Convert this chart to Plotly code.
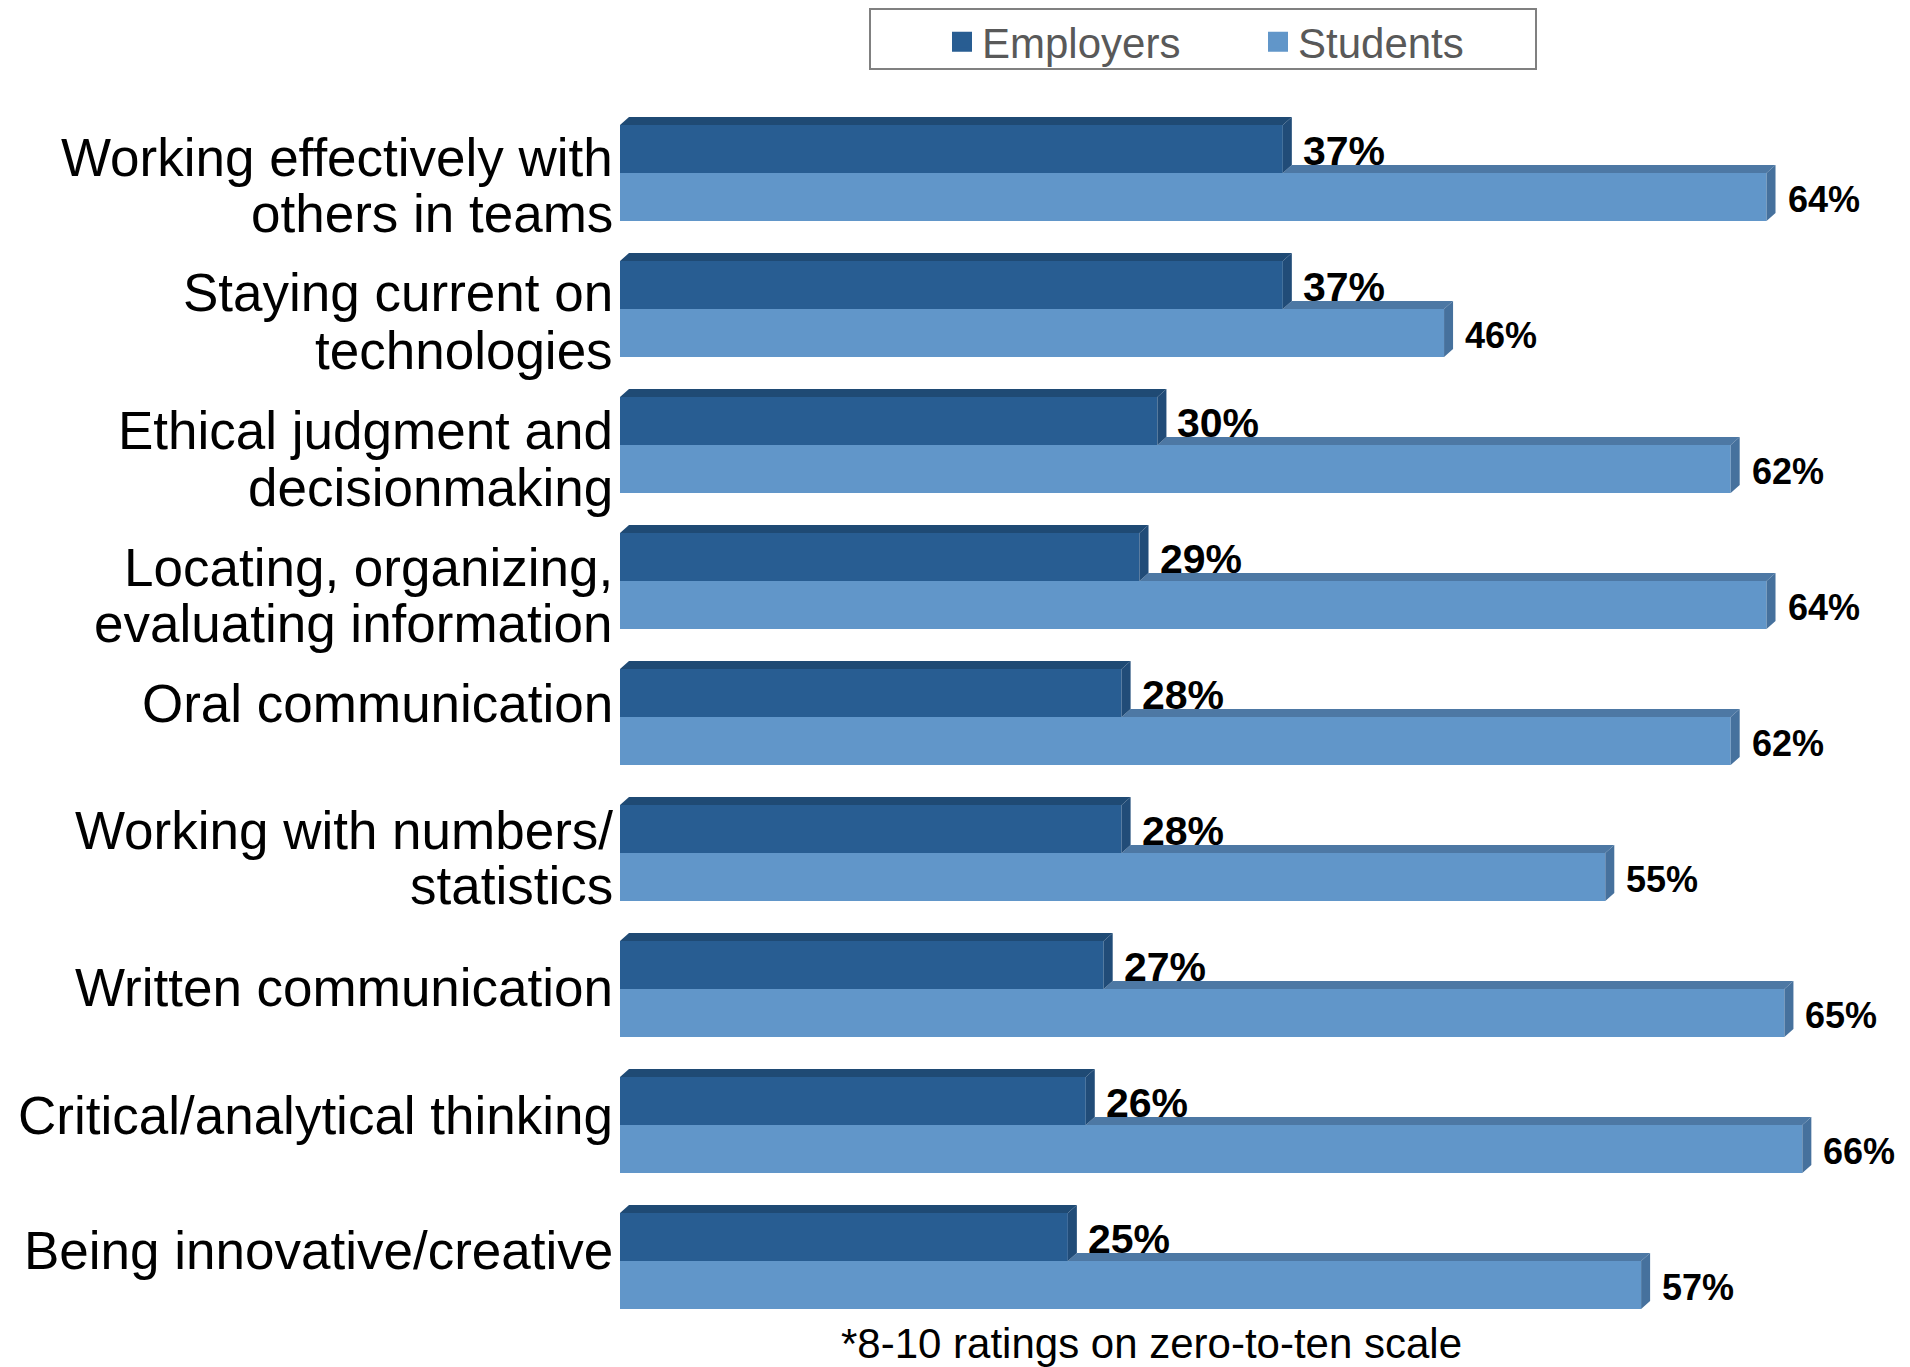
import plotly.graph_objects as go

# ---------------- data ----------------
categories = [
    "Working effectively with<br>others in teams",
    "Staying current on<br>technologies",
    "Ethical judgment and<br>decisionmaking",
    "Locating, organizing,<br>evaluating information",
    "Oral communication",
    "Working with numbers/<br>statistics",
    "Written communication",
    "Critical/analytical thinking",
    "Being innovative/creative",
]
employers = [37, 37, 30, 29, 28, 28, 27, 26, 25]
students = [64, 46, 62, 64, 62, 55, 65, 66, 57]
series_names = ["Employers", "Students"]
footnote = "*8-10 ratings on zero-to-ten scale"

# ---------------- style / layout constants ----------------
OFF = 8                      # page body margin in the browser
W, H = 1910 - OFF, 1367 - OFF
ML, MT = 620 - OFF, 105 - OFF
MR = 36
MB = H - (1329 - OFF)
PW, PH = W - ML - MR, H - MT - MB
XMAX = 70
PX_PER_X = PW / XMAX
PX_PER_Y = PH / 9.0

BAR_W = 48 / PX_PER_Y          # bar thickness in category units
DX = 9 / PX_PER_X              # 3D depth, x units
DY = 8 / PX_PER_Y              # 3D depth, y units

E_FRONT, E_TOP, E_SIDE = "#285D92", "#1F4A74", "#214C78"
S_FRONT, S_TOP, S_SIDE = "#6196C9", "#4D78A4", "#46719D"
FONT = "Liberation Sans, Arial, sans-serif"
LABEL_FS = 53
# baseline offsets (px below category centre) for each label line
LABEL_BASELINES = [[3, 59], [2, 60], [4, 61], [5, 61], [5], [-4, 51], [17], [9], [8]]


def px2paper_x(px):
    return (px - OFF - ML) / PW


def px2paper_y(py):
    return 1 - (py - OFF - MT) / PH


idx = list(range(len(categories)))

fig = go.Figure()

# front faces (bars)
fig.add_trace(go.Bar(
    y=idx, x=employers, orientation="h", name=series_names[0],
    offset=-BAR_W, width=BAR_W, marker=dict(color=E_FRONT, line=dict(width=0)),
    showlegend=False, hoverinfo="skip"))
fig.add_trace(go.Bar(
    y=idx, x=students, orientation="h", name=series_names[1],
    offset=0, width=BAR_W, marker=dict(color=S_FRONT, line=dict(width=0)),
    showlegend=False, hoverinfo="skip"))


def poly_trace(polys, color):
    xs, ys = [], []
    for p in polys:
        for (a, b) in p:
            xs.append(a)
            ys.append(b)
        xs.append(p[0][0])
        ys.append(p[0][1])
        xs.append(None)
        ys.append(None)
    return go.Scatter(x=xs, y=ys, mode="lines", fill="toself", fillcolor=color,
                      line=dict(width=0, color=color), showlegend=False, hoverinfo="skip")


e_top, e_side, s_top, s_side = [], [], [], []
for i, e, s in zip(idx, employers, students):
    yt = i - BAR_W
    e_top.append([(0, yt), (DX, yt - DY), (e + DX, yt - DY), (e, yt)])
    e_side.append([(e, yt), (e + DX, yt - DY), (e + DX, i - DY), (e, i)])
    s_top.append([(e, i), (e + DX, i - DY), (s + DX, i - DY), (s, i)])
    s_side.append([(s, i), (s + DX, i - DY), (s + DX, i + BAR_W - DY), (s, i + BAR_W)])

fig.add_trace(poly_trace(s_top, S_TOP))
fig.add_trace(poly_trace(s_side, S_SIDE))
fig.add_trace(poly_trace(e_top, E_TOP))
fig.add_trace(poly_trace(e_side, E_SIDE))

# legend entries
fig.add_trace(go.Scatter(x=[None], y=[None], mode="markers", name=series_names[0],
                         marker=dict(symbol="square", size=16, color=E_FRONT,
                                     line=dict(width=4, color=E_FRONT))))
fig.add_trace(go.Scatter(x=[None], y=[None], mode="markers", name=series_names[1],
                         marker=dict(symbol="square", size=16, color=S_FRONT,
                                     line=dict(width=4, color=S_FRONT))))

annotations = []
# value labels
for i, e, s in zip(idx, employers, students):
    annotations.append(dict(x=e, y=i - BAR_W / 2, xref="x", yref="y", text=f"{e}%",
                            showarrow=False, xanchor="left", yanchor="middle", xshift=18, yshift=-2,
                            font=dict(family=FONT, size=41, color="black", weight="bold")))
    annotations.append(dict(x=s, y=i + BAR_W / 2, xref="x", yref="y", text=f"{s}%",
                            showarrow=False, xanchor="left", yanchor="middle", xshift=19, yshift=-2,
                            font=dict(family=FONT, size=36, color="black", weight="bold")))

# category labels (one annotation per text line for tight line spacing)
for i, cat in enumerate(categories):
    lines = cat.split("<br>")
    for line, base in zip(lines, LABEL_BASELINES[i]):
        annotations.append(dict(x=0, y=i, xref="paper", yref="y", text=line,
                                showarrow=False, xanchor="right", yanchor="middle",
                                xshift=-5, yshift=0.3465 * LABEL_FS - base,
                                font=dict(family=FONT, size=LABEL_FS, color="black")))

# footnote
annotations.append(dict(x=px2paper_x(1151), y=px2paper_y(1343), xref="paper", yref="paper",
                        text=footnote, showarrow=False, xanchor="center", yanchor="middle",
                        font=dict(family=FONT, size=42, color="black")))

fig.update_layout(
    width=W, height=H,
    margin=dict(l=ML, r=MR, t=MT, b=MB, pad=0, autoexpand=False),
    paper_bgcolor="white", plot_bgcolor="white",
    barmode="overlay",
    xaxis=dict(range=[0, XMAX], visible=False, fixedrange=True),
    yaxis=dict(range=[len(categories) - 0.5, -0.5], visible=False, fixedrange=True),
    showlegend=True,
    legend=dict(orientation="h",
                xref="container", x=(942 - OFF) / W, xanchor="left",
                yref="container", y=1 - (42 - OFF) / H, yanchor="middle",
                font=dict(family=FONT, size=42, color="#595959"),
                bgcolor="rgba(0,0,0,0)", borderwidth=0,
                entrywidth=271, entrywidthmode="pixels", itemclick=False),
    shapes=[dict(type="rect", xref="paper", yref="paper",
                 x0=px2paper_x(870), x1=px2paper_x(1536),
                 y0=px2paper_y(69), y1=px2paper_y(9),
                 line=dict(color="#808080", width=2), fillcolor="rgba(0,0,0,0)")],
    annotations=annotations,
)

fig.write_html("out.html")
